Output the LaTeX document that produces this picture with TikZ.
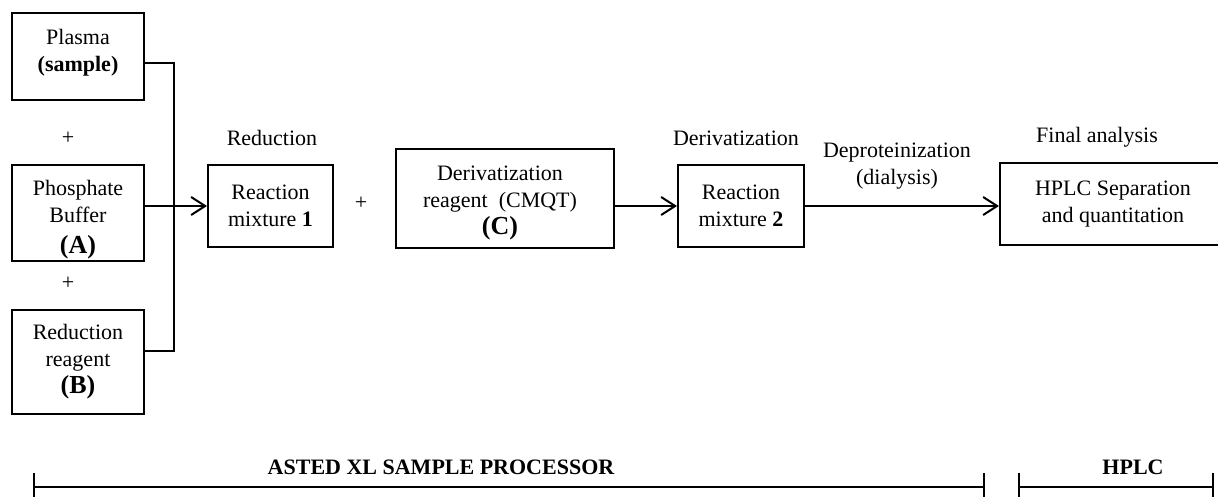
\documentclass[tikz,border=0pt]{standalone}
\usepackage{fontspec}
\setmainfont{Liberation Serif}
\usetikzlibrary{arrows.meta}
\newcommand\tag[1]{{\fontsize{26}{27}\selectfont\bfseries #1}}
\begin{document}
\begin{tikzpicture}[x=1pt,y=-1pt,
  every node/.style={font=\fontsize{22}{27}\selectfont},
  box/.style={draw,line width=2pt,align=center,inner sep=0pt},
  lab/.style={align=center,inner sep=0pt},
  link/.style={line width=2pt},
  flow/.style={line width=2pt,-{Straight Barb[length=14pt,width=18pt,line width=2pt]}},
  bar/.style={line width=2.4pt},
  banner/.style={inner sep=0pt,font=\fontsize{22}{27}\selectfont\bfseries}]
\useasboundingbox (0,0) rectangle (1218,496);
\clip (0,0) rectangle (1218,496);

% input reagents
\node[box,minimum width=132pt,minimum height=87pt,text depth=12pt] (plasma) at (78,56.5)
  {Plasma\\\textbf{(sample)}};
\node[box,minimum width=132pt,minimum height=96pt] (buffer) at (78,213) {};
\node[lab] (buffertext) at (78,220) {Phosphate\\Buffer\\[4pt]\tag{(A)}};
\node[box,minimum width=132pt,minimum height=104pt] (reagB) at (78,362)
  {Reduction\\reagent\\\tag{(B)}};
\node[lab] (plus1) at (68,138) {+};
\node[lab] (plus2) at (68,283) {+};

% reaction steps
\node[box,minimum width=125pt,minimum height=82pt] (rm1) at (270.5,206)
  {Reaction\\mixture \textbf{1}};
\node[lab] (red) at (272,138) {Reduction};
\node[lab] (plus3) at (361,203) {+};
\node[box,minimum width=218pt,minimum height=99pt] (reagC) at (505,198) {};
\node[lab] (reagCtext) at (500,203) {Derivatization\\reagent~~(CMQT)\\\tag{(C)}};
\node[box,minimum width=126pt,minimum height=82pt] (rm2) at (741,206)
  {Reaction\\mixture \textbf{2}};
\node[lab] (deriv) at (736,138) {Derivatization};
\node[lab] (deprot) at (897,166) {Deproteinization\\(dialysis)};
\node[box,minimum width=226pt,minimum height=82pt] (hplc) at (1113,204)
  {HPLC Separation\\and quantitation};
\node[lab] (final) at (1097,137) {Final analysis};

% collector line and flow arrows
\coordinate (jt) at (174,63);
\coordinate (jb) at (174,351);
\draw[link] (plasma.east |- jt) -- (jt) -- (jb) -- (reagB.east |- jb);
\draw[flow] (buffer.east |- rm1.west) -- (rm1.west);
\draw[flow] (reagC.east |- rm2.west) -- (rm2.west);
\draw[flow] (rm2.east) -- (hplc.west |- rm2.east);

% instrument ranges
\node[banner] (asted) at (441,467) {ASTED XL SAMPLE PROCESSOR};
\node[banner] (hplclab) at (1133,467) {HPLC};
\draw[bar] (34,473) -- (34,500);
\draw[bar] (34,487) -- (984,487);
\draw[bar] (984,473) -- (984,500);
\draw[bar] (1019,473) -- (1019,500);
\draw[bar] (1019,487) -- (1213,487);
\draw[bar] (1213,473) -- (1213,500);
\end{tikzpicture}
\end{document}
